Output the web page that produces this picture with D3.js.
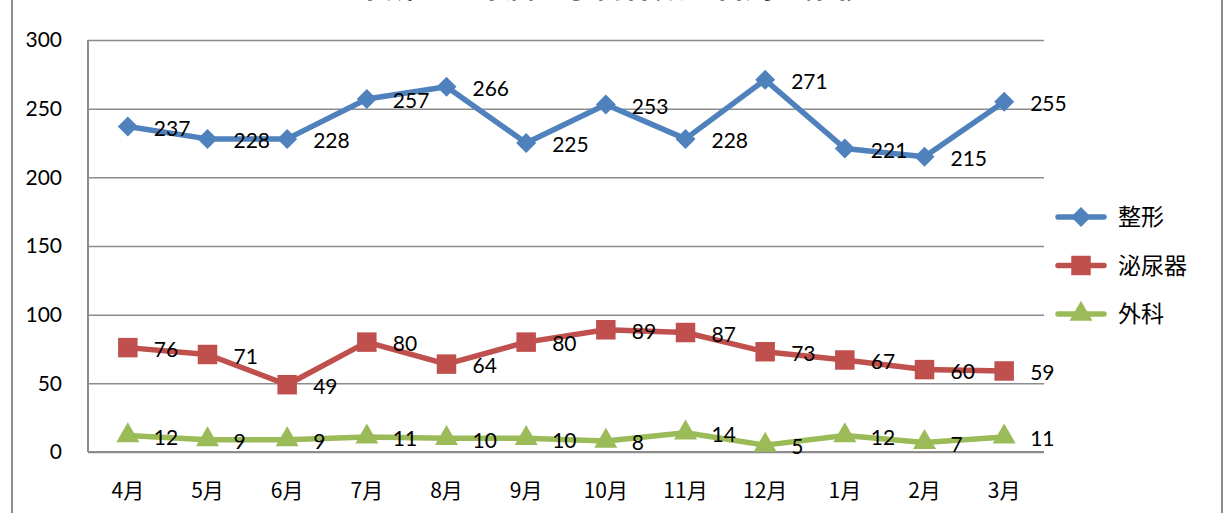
<!DOCTYPE html>
<html>
<head>
<meta charset="utf-8">
<script src="https://d3js.org/d3.v7.min.js"></script>
<style>
	body { margin: 0; background: #fff; }
	text { font-family: Lato, "Noto Sans CJK JP", sans-serif; fill: #000; }
</style>
</head>
<body>
<div id="chart"></div>
<script>
var months = ["4月", "5月", "6月", "7月", "8月", "9月", "10月", "11月", "12月", "1月", "2月", "3月"];
var seriesNames = ["整形", "泌尿器", "外科"];
var seishu = [237, 228, 228, 257, 266, 225, 253, 228, 271, 221, 215, 255];
var hinyoki = [76, 71, 49, 80, 64, 80, 89, 87, 73, 67, 60, 59];
var geka = [12, 9, 9, 11, 10, 10, 8, 14, 5, 12, 7, 11];
var yTicks = [0, 50, 100, 150, 200, 250, 300];
var colors = ["#4f81bd", "#c0504d", "#9bbb59"];

var series = [seishu, hinyoki, geka];

var width = 1227,
	height = 513;

var margin = {left: 88, right: 183, top: 40, bottom: 61};

// marker shapes: rotated square (diamond), square, triangle
var markers = [
	{type: d3.symbolSquare, size: 200, rotate: 45},
	{type: d3.symbolSquare, size: 380, rotate: 0},
	{type: d3.symbolTriangle, size: 230, rotate: 0}
];

var svg = d3.select("#chart").append("svg")
	.attr("width", width)
	.attr("height", height);

// outer chart frame (top and bottom are outside the window)
svg.append("rect")
	.attr("x", 12).attr("y", -20)
	.attr("width", 1210).attr("height", height + 40)
	.attr("fill", "none")
	.attr("stroke", "#8c8c8c")
	.attr("stroke-width", 2);

// title, mostly cut off at the top like in the original
svg.append("text")
	.attr("x", 610).attr("y", -3)
	.attr("text-anchor", "middle")
	.style("font-size", "30px")
	.style("font-weight", "bold")
	.style("font-family", "'Noto Sans CJK JP'")
	.text("平成２５年度　手術件数（科別）推移");

var xScale = d3.scaleBand()
	.domain(months)
	.range([margin.left, width - margin.right]);

var yScale = d3.scaleLinear()
	.domain([0, 300])
	.range([height - margin.bottom, margin.top]);

// gridlines
svg.append("g")
	.attr("transform", "translate(" + margin.left + ",0)")
	.call(d3.axisLeft(yScale).tickValues(yTicks).tickSize(-(width - margin.right - margin.left)).tickFormat(""))
	.call(function(g){
		g.select(".domain").remove();
		g.selectAll("line").attr("stroke", "#8c8c8c").attr("stroke-width", 1.5);
	});

// y axis labels
svg.append("g").selectAll("text").data(yTicks)
	.enter().append("text")
		.attr("x", 62)
		.attr("y", function(d){ return yScale(d); })
		.attr("text-anchor", "end")
		.attr("dy", "0.35em")
		.style("font-size", "21px")
		.text(function(d){ return d; });

// axis lines
svg.append("line")
	.attr("x1", margin.left).attr("x2", margin.left)
	.attr("y1", yScale(300)).attr("y2", yScale(0))
	.attr("stroke", "#8c8c8c").attr("stroke-width", 2);
svg.append("line")
	.attr("x1", margin.left).attr("x2", width - margin.right)
	.attr("y1", yScale(0)).attr("y2", yScale(0))
	.attr("stroke", "#8c8c8c").attr("stroke-width", 2);

// x labels
svg.append("g").selectAll("text").data(months)
	.enter().append("text")
		.attr("x", function(d){ return xScale(d) + xScale.bandwidth() / 2; })
		.attr("y", 498)
		.attr("text-anchor", "middle")
		.style("font-size", "21px")
		.style("font-family", "'Noto Sans CJK JP'")
		.text(function(d){ return d; });

var cx = function(i){ return xScale(months[i]) + xScale.bandwidth() / 2; };

var line = d3.line()
	.x(function(d, i){ return cx(i); })
	.y(function(d){ return yScale(d); });

series.forEach(function(data, s){
	var g = svg.append("g");
	g.append("path")
		.datum(data)
		.attr("d", line)
		.attr("fill", "none")
		.attr("stroke", colors[s])
		.attr("stroke-width", 5.5)
		.attr("stroke-linejoin", "round");

	g.selectAll("path.mark").data(data)
		.enter().append("path")
			.attr("class", "mark")
			.attr("d", d3.symbol().type(markers[s].type).size(markers[s].size))
			.attr("transform", function(d, i){
				return "translate(" + cx(i) + "," + yScale(d) + ") rotate(" + markers[s].rotate + ")";
			})
			.attr("fill", colors[s]);

	// value labels to the right of each point
	g.selectAll("text").data(data)
		.enter().append("text")
			.attr("x", function(d, i){ return cx(i) + 26; })
			.attr("y", function(d){ return yScale(d) + 2; })
			.attr("dy", "0.35em")
			.style("font-size", "21px")
			.text(function(d){ return d; });
});

// legend
var legend = svg.append("g").selectAll("g").data(seriesNames)
	.enter().append("g")
		.attr("transform", function(d, i){ return "translate(1058," + (217 + i * 48.5) + ")"; });

legend.append("line")
	.attr("x1", 0).attr("x2", 46)
	.attr("stroke", function(d, i){ return colors[i]; })
	.attr("stroke-width", 5.5)
	.attr("stroke-linecap", "round");

legend.append("path")
	.attr("d", function(d, i){ return d3.symbol().type(markers[i].type).size(markers[i].size)(); })
	.attr("transform", function(d, i){ return "translate(23,0) rotate(" + markers[i].rotate + ")"; })
	.attr("fill", function(d, i){ return colors[i]; });

legend.append("text")
	.attr("x", 60)
	.attr("dy", "0.35em")
	.style("font-size", "23px")
	.style("font-family", "'Noto Sans CJK JP'")
	.text(function(d){ return d; });
</script>
</body>
</html>
